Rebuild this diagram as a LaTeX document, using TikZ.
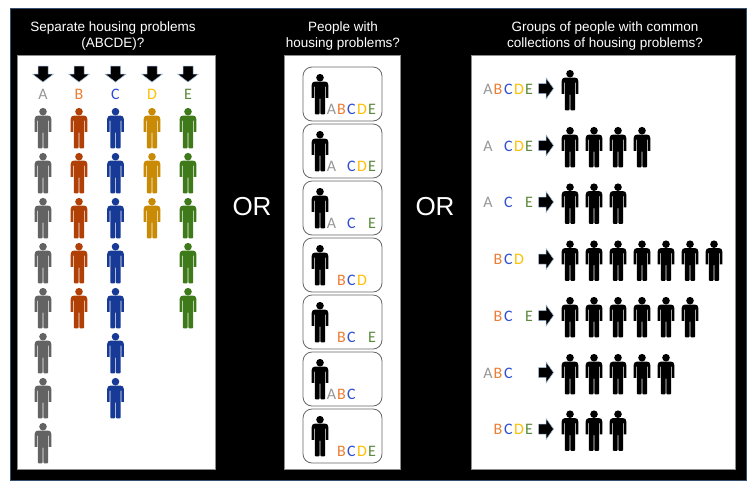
\documentclass[tikz,border=0pt]{standalone}
\usepackage{fontspec}
\setmainfont{Liberation Sans}
\newfontfamily\letterfont{Carlito}
\definecolor{lA}{HTML}{969696}
\definecolor{lB}{HTML}{ED7D31}
\definecolor{lC}{HTML}{2F50D0}
\definecolor{lD}{HTML}{FFC000}
\definecolor{lE}{HTML}{5B8A3C}
\definecolor{pA}{HTML}{636363}
\definecolor{pB}{HTML}{B04006}
\definecolor{pC}{HTML}{173A96}
\definecolor{pD}{HTML}{C98A05}
\definecolor{pE}{HTML}{3F7A1A}
\definecolor{pK}{HTML}{000000}
\definecolor{edge}{HTML}{9DB7D5}
\definecolor{frameedge}{HTML}{34506E}
\newcommand\midxA{331.5}
\newcommand\midxB{341.5}
\newcommand\midxC{351.5}
\newcommand\midxD{362}
\newcommand\midxE{372}
\newcommand\rgtxA{488}
\newcommand\rgtxB{498}
\newcommand\rgtxC{508.5}
\newcommand\rgtxD{519}
\newcommand\rgtxE{529}
\tikzset{
  panel/.style={fill=white,draw=black!45,line width=.7pt},
  title/.style={text=white,font=\fontsize{13.5}{16}\selectfont,align=center,inner sep=0pt},
  ortext/.style={text=white,font=\fontsize{26}{28}\selectfont,inner sep=0pt},
  letter/.style={font=\letterfont\fontsize{16}{18}\selectfont,inner sep=0pt,anchor=base},
  cardbox/.style={draw=black!60,line width=.8pt,rounded corners=9pt,fill=white},
  person/.pic={
    \fill[pic actions] (0,3.7) circle (3.8);
    \fill[pic actions] (-8.3,23.8) -- (-8.3,11) .. controls (-8.3,8.8) and (-7,7.6) .. (-5,7.6)
      -- (5,7.6) .. controls (7,7.6) and (8.3,8.8) .. (8.3,11) -- (8.3,23.8) -- (5.9,23.8)
      -- (5.9,12.5) -- (5.2,12.5) -- (5.2,39.4) .. controls (5.2,40) and (4.9,40.3) .. (4.3,40.3)
      -- (1.2,40.3) .. controls (.7,40.3) and (.45,40) .. (.45,39.4) -- (.45,24.5) -- (-.45,24.5)
      -- (-.45,39.4) .. controls (-.45,40) and (-.7,40.3) .. (-1.2,40.3)
      -- (-4.3,40.3) .. controls (-4.9,40.3) and (-5.2,40) .. (-5.2,39.4)
      -- (-5.2,12.5) -- (-5.9,12.5) -- (-5.9,23.8) -- cycle;
  },
  downarrow/.pic={
    \fill[black,draw=edge,line width=.5pt] (-5,-8) -- (5,-8) -- (5,0) -- (10.5,0) -- (0,8)
      -- (-10.5,0) -- (-5,0) -- cycle;
  },
  rightarrow/.pic={
    \fill[black,draw=edge,line width=.5pt] (-7.5,-5) -- (0,-5) -- (0,-10.5) -- (7.5,0) -- (0,10.5)
      -- (0,5) -- (-7.5,5) -- cycle;
  },
}
\begin{document}
\begin{tikzpicture}[x=1pt,y=-1pt]
\useasboundingbox (0,0) rectangle (754,491);
\fill[white] (0,0) rectangle (754,491);
\fill[black,draw=frameedge,line width=.7pt] (10.5,8) rectangle (746.5,480.5);
% panels
\node[title] (t1) at (113,36) {Separate housing problems\\(ABCDE)?};
\node[title] (t2) at (343,36) {People with\\housing problems?};
\node[title] (t3) at (605,36) {Groups of people with common\\collections of housing problems?};
\draw[panel] (17.5,55) rectangle (215.5,469.5);
\draw[panel] (284,55) rectangle (400,469.5);
\draw[panel] (471,55) rectangle (735,469.5);
\node[ortext] (or1) at (252,207) {OR};
\node[ortext] (or2) at (435,207) {OR};
% left panel columns
\foreach \col/\x/\cnt in {A/43/8,B/79/5,C/115.5/7,D/152/3,E/188/5}{
  \pic at (\x,74) {downarrow};
  \node[letter,text=l\col] (head\col) at (\x,99.5) {\col};
  \foreach \i in {1,...,\cnt}{
    \pic[fill=p\col] at ({\x},{108+45*(\i-1)}) {person};
  }
}
% middle panel
\foreach \n/\ty/\ls in {
  1/67/{A,B,C,D,E},2/124/{A,C,D,E},3/181/{A,C,E},4/238/{B,C,D},
  5/295/{B,C,E},6/352/{A,B,C},7/409/{B,C,D,E}}{
  \draw[cardbox] (303,\ty) rectangle (382,\ty+54);
  \pic[fill=pK] at (320,\ty+7) {person};
  \foreach \l in \ls {
    \node[letter,text=l\l] (m\n\l) at (\csname midx\l\endcsname,\ty+47.5) {\l};
  }
}
% right panel
\foreach \n/\ty/\cnt/\ls in {
  1/70/1/{A,B,C,D,E},2/127/4/{A,C,D,E},3/183.5/3/{A,C,E},4/240.5/7/{B,C,D},
  5/297/6/{B,C,E},6/354/5/{A,B,C},7/410.5/3/{B,C,D,E}}{
  \pic at (546,\ty+18.5) {rightarrow};
  \foreach \i in {1,...,\cnt}{
    \pic[fill=pK] at ({570+24*(\i-1)},\ty) {person};
  }
  \foreach \l in \ls {
    \node[letter,text=l\l] (r\n\l) at (\csname rgtx\l\endcsname,\ty+24) {\l};
  }
}
\end{tikzpicture}
\end{document}
